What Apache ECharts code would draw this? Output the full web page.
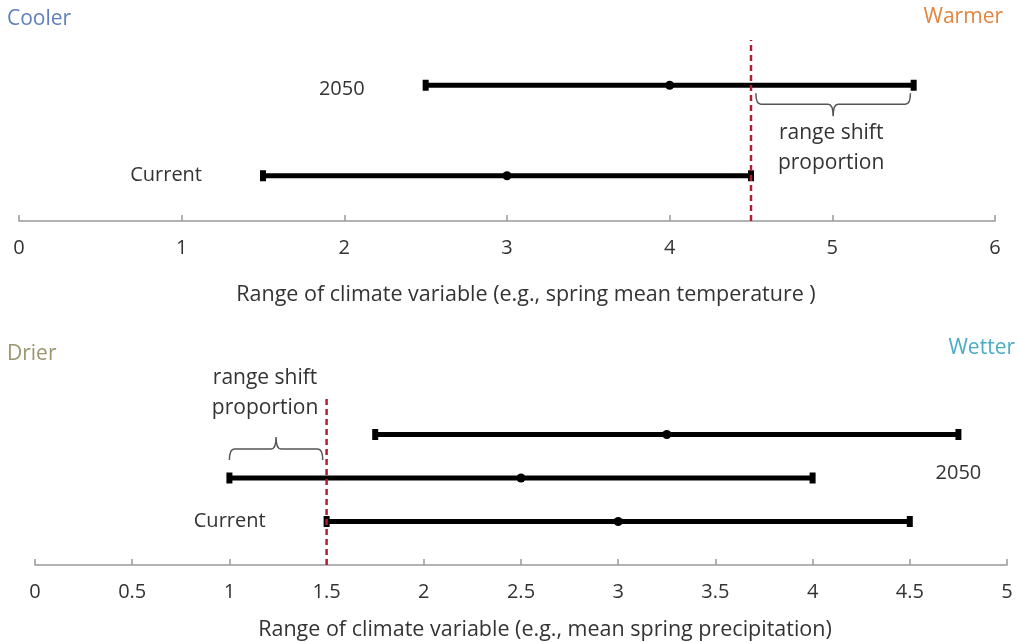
<!DOCTYPE html>
<html>
<head>
<meta charset="utf-8">
<script src="https://cdn.jsdelivr.net/npm/echarts@6/dist/echarts.min.js"></script>
<style>
html, body { margin: 0; padding: 0; background: #fff; }
#chart { width: 1017px; height: 642px; }
</style>
</head>
<body>
<div id="chart"></div>
<script>
// top panel: temperature
var tempLabels = ['2050', 'Current'];
var tempLow = [2.5, 1.5];
var tempMid = [4, 3];
var tempHigh = [5.5, 4.5];
var tempRow = [3, 1];
var tempThreshold = 4.5;
var tempBrace = [4.53, 5.48];
var tempTicks = [0, 6, 1];

// bottom panel: precipitation
var precipLabels = ['2050', '', 'Current'];
var precipLow = [1.75, 1, 1.5];
var precipMid = [3.25, 2.5, 3];
var precipHigh = [4.75, 4, 4.5];
var precipRow = [3, 2, 1];
var precipThreshold = 1.5;
var precipBrace = [1.0, 1.48];
var precipTicks = [0, 5, 0.5];

var FONT = 'Open Sans';
var TXT = '#333';

function rangeSeries(gi, low, mid, high, row, label, labelAt, dy) {
    var first = { value: [low, row] };
    var last = { value: [high, row] };
    if (label) {
        var lab = {
            show: true,
            formatter: label,
            fontFamily: FONT,
            fontSize: 20,
            color: TXT
        };
        if (labelAt == 'left') {
            lab.position = 'left';
            lab.distance = 58;
            lab.offset = [0, dy || 0];
            first.label = lab;
        } else {
            lab.position = 'bottom';
            lab.distance = 23;
            last.label = lab;
        }
    }
    return {
        type: 'line',
        xAxisIndex: gi,
        yAxisIndex: gi,
        symbol: 'rect',
        symbolSize: [6, 11],
        lineStyle: { color: '#000', width: 5 },
        itemStyle: { color: '#000' },
        z: 3,
        data: [first, { value: [mid, row], symbol: 'circle', symbolSize: 9 }, last]
    };
}

function thresholdSeries(gi, x, top) {
    return {
        type: 'line',
        xAxisIndex: gi,
        yAxisIndex: gi,
        symbol: 'none',
        lineStyle: { color: '#b01f2e', width: 2.5, type: [6, 4] },
        z: 5,
        data: [[x, 0], [x, top]]
    };
}

// curly brace under (dir 1) or above (dir -1) a bar
function braceSeries(gi, range, row, dir, gap, textDx, textGap) {
    return {
        type: 'custom',
        xAxisIndex: gi,
        yAxisIndex: gi,
        clip: false,
        z: 4,
        data: [[range[0], range[1], row]],
        renderItem: function (params, api) {
            var a = api.coord([api.value(0), api.value(2)]);
            var b = api.coord([api.value(1), api.value(2)]);
            var xl = a[0], xr = b[0], xm = (xl + xr) / 2;
            var y0 = a[1] + dir * gap;
            var y1 = y0 + dir * 11;
            var y2 = y1 + dir * 12;
            var r = 5;
            var path = 'M' + xl + ' ' + y0 +
                ' Q' + xl + ' ' + y1 + ' ' + (xl + r) + ' ' + y1 +
                ' L' + (xm - r) + ' ' + y1 +
                ' Q' + xm + ' ' + y1 + ' ' + xm + ' ' + y2 +
                ' Q' + xm + ' ' + y1 + ' ' + (xm + r) + ' ' + y1 +
                ' L' + (xr - r) + ' ' + y1 +
                ' Q' + xr + ' ' + y1 + ' ' + xr + ' ' + y0;
            return {
                type: 'group',
                children: [{
                    type: 'path',
                    shape: { pathData: path },
                    style: { stroke: '#555', lineWidth: 1.5, fill: null }
                }, {
                    type: 'text',
                    style: {
                        text: 'range shift\nproportion',
                        x: xm + textDx,
                        y: y2 + dir * textGap,
                        align: 'center',
                        verticalAlign: dir > 0 ? 'top' : 'bottom',
                        fontFamily: FONT,
                        fontSize: 21,
                        lineHeight: 30,
                        fill: TXT
                    }
                }]
            };
        }
    };
}

function xAxisFor(gi, ticks, name, nameGap, shift) {
    return {
        type: 'value',
        gridIndex: gi,
        min: ticks[0],
        max: ticks[1],
        interval: ticks[2],
        splitLine: { show: false },
        axisLine: { lineStyle: { color: '#999', width: 1.5 } },
        axisTick: { inside: true, length: 6, lineStyle: { color: '#999', width: 1.5 } },
        axisLabel: { color: TXT, fontFamily: FONT, fontSize: 20, margin: 17 },
        name: name,
        nameLocation: 'middle',
        nameGap: nameGap,
        nameTextStyle: { color: TXT, fontFamily: FONT, fontSize: 21.5, padding: [0, 0, 0, shift] }
    };
}

function yAxisFor(gi) {
    return { type: 'value', gridIndex: gi, min: 0, max: 4, show: false };
}

var myChart = echarts.init(document.getElementById('chart'));
var series = [];
for (var i = 0; i < tempRow.length; i++) {
    series.push(rangeSeries(0, tempLow[i], tempMid[i], tempHigh[i], tempRow[i], tempLabels[i], 'left', i == 0 ? 4 : 0));
}
for (var j = 0; j < precipRow.length; j++) {
    series.push(rangeSeries(1, precipLow[j], precipMid[j], precipHigh[j], precipRow[j],
        precipLabels[j], precipLabels[j] == 'Current' ? 'left' : 'below', 0));
}
series.push(thresholdSeries(0, tempThreshold, 4));
series.push(thresholdSeries(1, precipThreshold, 3.9));
series.push(braceSeries(0, tempBrace, tempRow[0], 1, 8, -2, 2));
series.push(braceSeries(1, precipBrace, precipRow[1], -1, 18, -11, 14));

var cornerStyle = function (text, color) {
    return { text: text, fill: color, fontFamily: FONT, fontSize: 21 };
};

option = {
    animation: false,
    backgroundColor: '#fff',
    grid: [
        { left: 19, right: 22, top: 40, bottom: 421 },
        { left: 35, right: 10, top: 391, bottom: 77 }
    ],
    xAxis: [
        xAxisFor(0, tempTicks, 'Range of climate variable (e.g., spring mean temperature )', 63, 38),
        xAxisFor(1, precipTicks, 'Range of climate variable (e.g., mean spring precipitation)', 54, 48)
    ],
    yAxis: [yAxisFor(0), yAxisFor(1)],
    graphic: [
        { type: 'text', left: 7, top: 9, style: cornerStyle('Cooler', '#5f7fbd') },
        { type: 'text', right: 14, top: 7, style: cornerStyle('Warmer', '#e3843f') },
        { type: 'text', left: 7, top: 344, style: cornerStyle('Drier', '#9a9670') },
        { type: 'text', right: 2, top: 338, style: cornerStyle('Wetter', '#4bacc6') }
    ],
    series: series
};
myChart.setOption(option);

window.addEventListener('resize', function () {
    myChart.resize();
});
</script>
</body>
</html>
